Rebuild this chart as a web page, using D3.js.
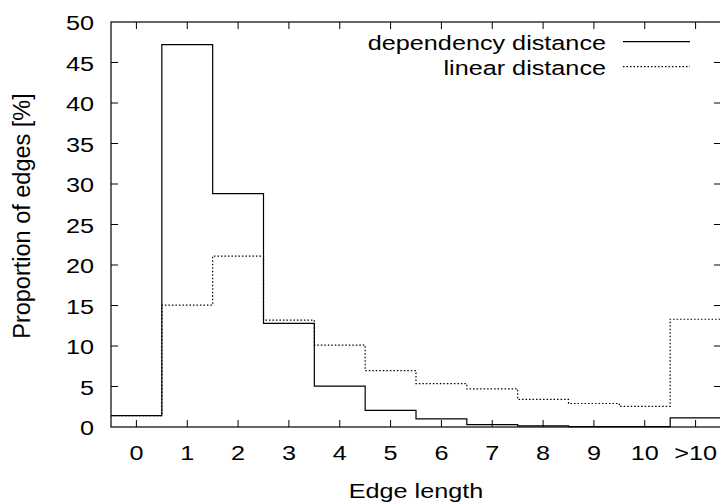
<!DOCTYPE html>
<html><head><meta charset="utf-8">
<script src="https://cdn.jsdelivr.net/npm/d3@7/dist/d3.min.js"></script>
<style>
html,body{margin:0;padding:0;background:#fff;overflow:hidden}
text{font-family:"Liberation Sans",Arial,sans-serif;fill:#000}
</style></head><body>
<script>
const categories = ["0","1","2","3","4","5","6","7","8","9","10",">10"];
const dependencyDistance = [1.4,47.2,28.8,12.8,5.05,2.05,1.0,0.3,0.15,0.05,0.05,1.13];
const linearDistance = [1.4,15.05,21.1,13.2,10.1,6.95,5.35,4.7,3.4,2.9,2.55,13.3];
const yTicks = [0,5,10,15,20,25,30,35,40,45,50];
const seriesNames = ["dependency distance","linear distance"];

const W=720,H=503;
const svg=d3.select("body").append("svg").attr("width",W).attr("height",H);
const x=d3.scaleLinear().domain([-0.5,11.5]).range([111,721]);
const y=d3.scaleLinear().domain([0,50]).range([427,22]);
const fs=20.5, sx=1.23;

function label(px,py,txt,anchor){
  return svg.append("text").attr("transform",`translate(${px},${py}) scale(${sx},1)`)
    .attr("text-anchor",anchor).attr("font-size",fs).text(txt);
}

// border
svg.append("rect").attr("x",x(-0.5)).attr("y",y(50)).attr("width",x(11.5)-x(-0.5)).attr("height",y(0)-y(50))
  .attr("fill","none").attr("stroke","#000").attr("stroke-width",1.2);

// ticks (inward, mirrored)
const tl=7;
const g=svg.append("g").attr("stroke","#000").attr("stroke-width",1);
yTicks.slice(1,-1).forEach(v=>{
  g.append("line").attr("x1",x(-0.5)).attr("x2",x(-0.5)+tl).attr("y1",y(v)).attr("y2",y(v));
  g.append("line").attr("x1",x(11.5)).attr("x2",x(11.5)-tl).attr("y1",y(v)).attr("y2",y(v));
});
categories.forEach((c,i)=>{
  g.append("line").attr("x1",x(i)).attr("x2",x(i)).attr("y1",y(0)).attr("y2",y(0)-tl);
  g.append("line").attr("x1",x(i)).attr("x2",x(i)).attr("y1",y(50)).attr("y2",y(50)+tl);
});

// tick labels
yTicks.forEach(d=>label(94,y(d)+8.3,d,"end"));
categories.forEach((d,i)=>label(x(i),460,d,"middle"));

// axis titles
label(416,497.5,"Edge length","middle");
svg.append("text").attr("transform","translate(30,216) rotate(-90)").attr("text-anchor","middle")
  .attr("font-size",23.5).text("Proportion of edges [%]");

// histeps
function steps(vals){
  const pts=[];
  vals.forEach((v,i)=>{pts.push([i-0.5,v]);pts.push([i+0.5,v]);});
  return d3.line().x(d=>x(d[0])).y(d=>y(d[1]))(pts);
}
svg.append("path").attr("d",steps(linearDistance)).attr("fill","none").attr("stroke","#000")
  .attr("stroke-width",1.2).attr("stroke-dasharray","1.5,2");
svg.append("path").attr("d",steps(dependencyDistance)).attr("fill","none").attr("stroke","#000")
  .attr("stroke-width",1.2);

// legend
const ly=[41.7,66.7];
seriesNames.forEach((n,i)=>{
  label(606,ly[i]+8.5,n,"end");
  const l=svg.append("line").attr("x1",623).attr("x2",690).attr("y1",ly[i]).attr("y2",ly[i])
    .attr("stroke","#000").attr("stroke-width",1.2);
  if(i===1) l.attr("stroke-dasharray","1.5,2");
});
</script></body></html>
